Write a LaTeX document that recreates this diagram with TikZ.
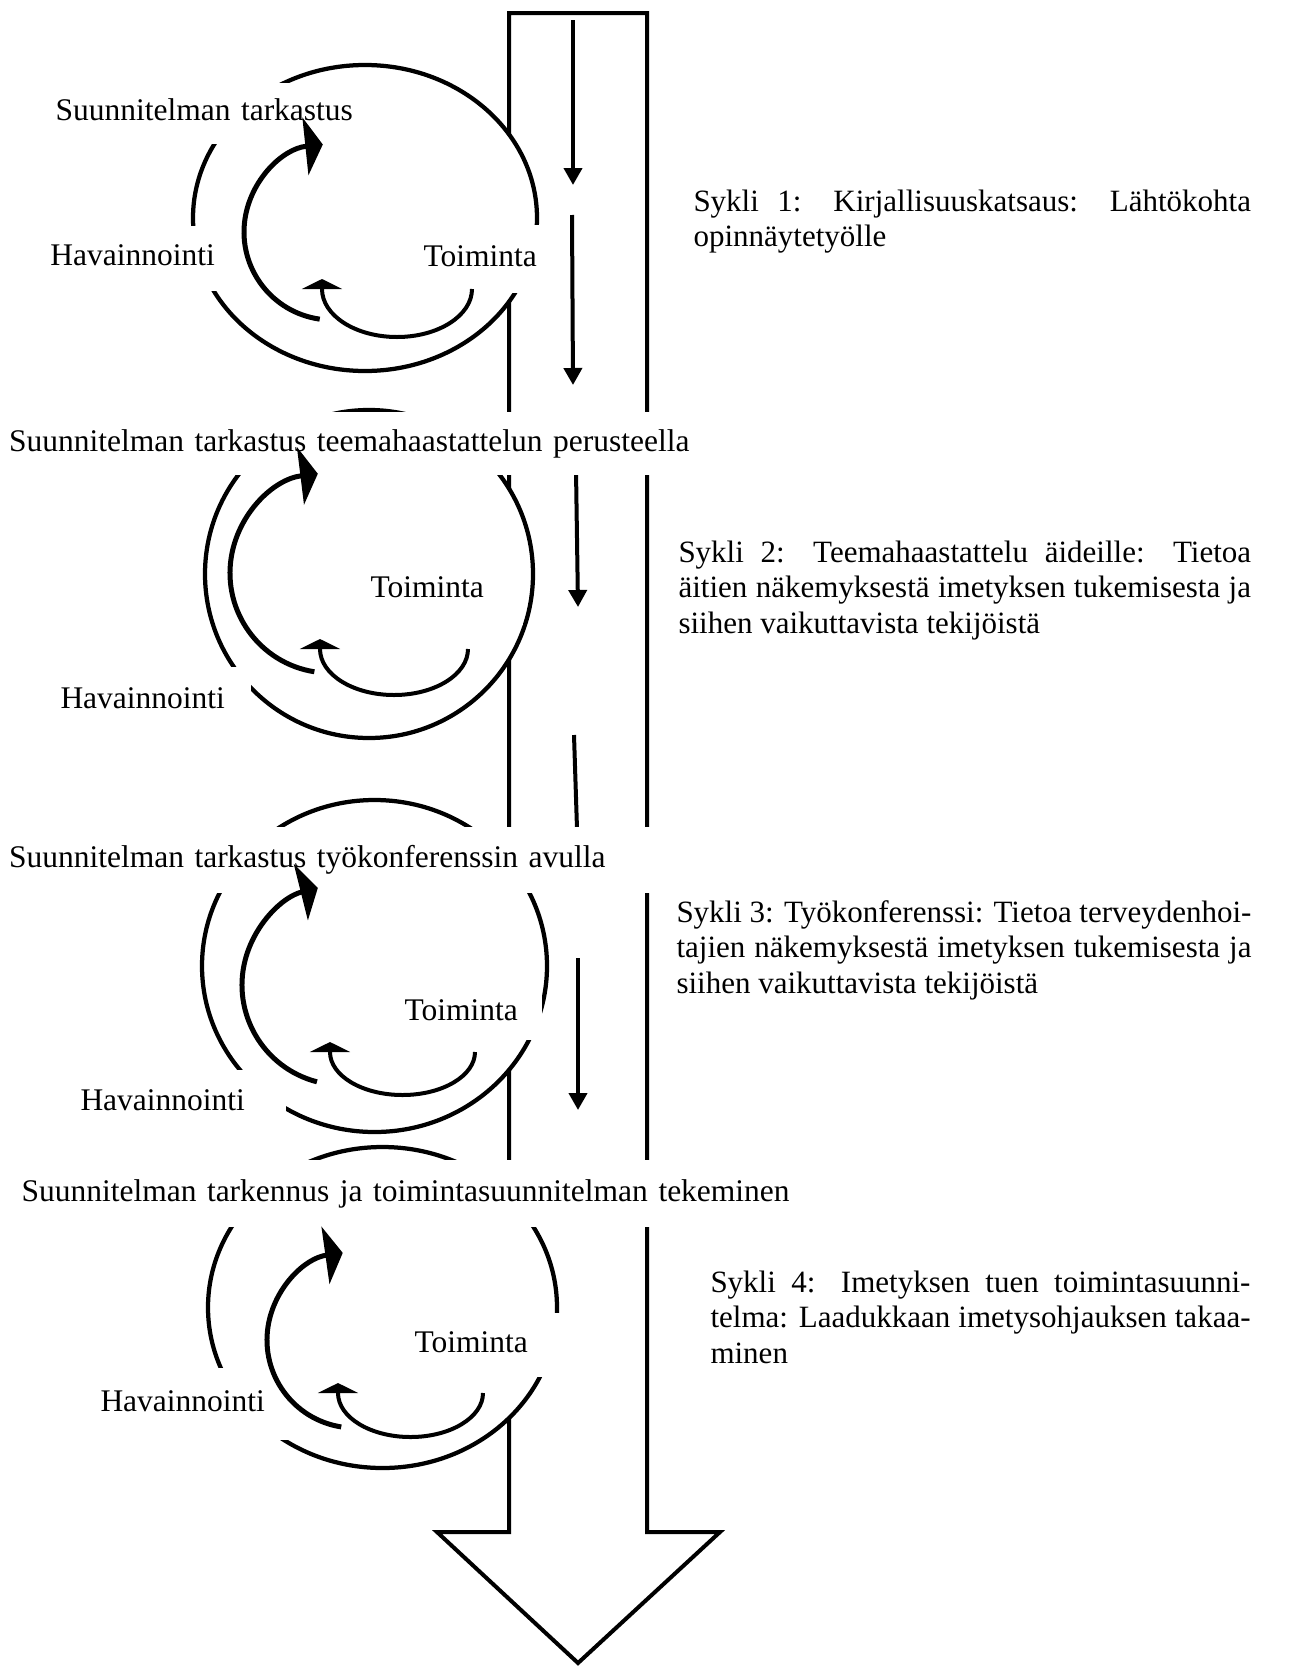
\documentclass[tikz,border=0pt]{standalone}
\usepackage{fontspec}
\setmainfont{Liberation Serif}
\usetikzlibrary{arrows.meta}
\newcommand\sykliteksti{\fontsize{12.4}{14.2}\selectfont\tolerance=10000\relax\hyphenpenalty=10000\relax}

\begin{document}
\begin{tikzpicture}[x=0.4pt, y=0.4pt,
  vaihe/.style={fill=white, inner sep=0pt, anchor=west, align=left, font=\fontsize{12.6}{14.2}\selectfont, text height=9pt, text depth=3pt},
  sykli/.style={anchor=base west, inner sep=0pt, align=justify, font=\sykliteksti},
  kehae/.style={draw, fill=white, line width=1.7pt},
  ohut/.style={-{Triangle[length=6.8pt, width=7.2pt]}, line width=1.6pt},
  iso/.style={-{Triangle[length=7pt, width=23pt]}, line width=2pt},
  pieni/.style={-{Triangle[length=4pt, width=16pt]}, line width=1.6pt}]
\useasboundingbox (0,0) rectangle (1289,-1666);
\draw[line width=1.6pt, line join=miter] (509,-13) -- (647,-13) -- (647,-1532) -- (720,-1532) -- (578,-1663) -- (437,-1532) -- (509,-1532) -- cycle;
\foreach \i/\xa/\ya/\xb/\yb in {1/573/20/573/185, 2/572/215/573/385, 3/576/470/578/607, 5/578/958/578/1110}{
  \coordinate (o\i a) at (\xa,-\ya); \coordinate (o\i b) at (\xb,-\yb);
  \draw[ohut] (o\i a) -- (o\i b);}
\coordinate (o4a) at (574,-735); \coordinate (o4b) at (578,-860);
\draw[line width=1.6pt] (o4a) -- (o4b);
\foreach \cx/\cy/\rx/\ry in {365/218/172/153, 369/574/164/164, 374.5/966/172.5/166, 382.5/1307.5/174.5/160.5}
  \draw[kehae] (\cx,-\cy) ellipse[x radius=\rx, y radius=\ry];
\node[vaihe, text width=130pt, minimum height=24.4pt] (tark1) at (55,-113) {Suunnitelman tarkastus};
\node[vaihe, text width=68pt, minimum height=26pt] (hav1) at (50,-258) {Havainnointi};
\node[vaihe, text width=48.8pt, minimum height=27.2pt] (toim1) at (423,-259) {Toiminta};
\node[vaihe, text width=285pt, minimum height=25.2pt] (tark2) at (8.5,-443.5) {Suunnitelman tarkastus teemahaastattelun perusteella};
\node[vaihe, text width=60.8pt, minimum height=28pt] (toim2) at (370,-590) {Toiminta};
\node[vaihe, text width=76pt, minimum height=27.2pt] (hav2) at (60,-701) {Havainnointi};
\node[vaihe, text width=268pt, minimum height=26.4pt] (tark3) at (8.5,-860) {Suunnitelman tarkastus työkonferenssin avulla};
\node[vaihe, text width=54.8pt, minimum height=22pt] (toim3) at (404,-1012.5) {Toiminta};
\node[vaihe, text width=82pt, minimum height=26pt] (hav3) at (80,-1102.5) {Havainnointi};
\node[vaihe, text width=320pt, minimum height=26.8pt] (tark4) at (21,-1193.5) {Suunnitelman tarkennus ja toimintasuunnitelman tekeminen};
\node[vaihe, text width=59.2pt, minimum height=25.6pt] (toim4) at (414,-1345) {Toiminta};
\node[vaihe, text width=76.8pt, minimum height=28.8pt] (hav4) at (100,-1404) {Havainnointi};
\node[sykli, text width=223pt] (sykli1) at (693,-211) {Sykli 1: Kirjallisuuskatsaus: Lähtökohta\linebreak opinnäytetyölle};
\node[sykli, text width=229pt] (sykli2) at (678,-562) {Sykli 2: Teemahaastattelu äideille: Tietoa\linebreak äitien näkemyksestä imetyksen tukemisesta ja\linebreak siihen vaikuttavista tekijöistä};
\node[sykli, text width=230pt] (sykli3) at (676,-922) {Sykli 3: Työkonferenssi: Tietoa terveydenhoi-\linebreak tajien näkemyksestä imetyksen tukemisesta ja\linebreak siihen vaikuttavista tekijöistä};
\node[sykli, text width=216pt] (sykli4) at (710,-1292) {Sykli 4: Imetyksen tuen toimintasuunni-\linebreak telma: Laadukkaan imetysohjauksen takaa-\linebreak minen};
\foreach \cx/\cy/\r/\a/\b in {332/232/88/262/96, 330/573/100/261/97, 342/985/100/255.5/104, 355/1340/88/261/98}
  \draw[iso] (\cx,-\cy) ++(\a:\r) arc[start angle=\a, end angle=\b, radius=\r];
\foreach \cx/\cy/\rx/\ry in {397/289/75/48, 394/649/74/46, 402.5/1052/72.5/43, 410.5/1393/72.5/44}
  \draw[pieni] (\cx+\rx,-\cy) arc[start angle=0, end angle=-180, x radius=\rx, y radius=\ry] -- ++(0,10);
\end{tikzpicture}
\end{document}
